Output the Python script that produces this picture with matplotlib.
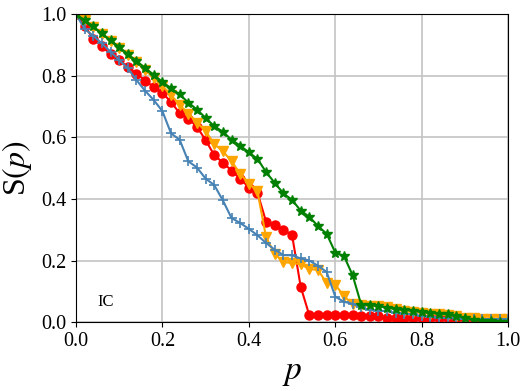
import matplotlib
matplotlib.use("Agg")
import matplotlib.pyplot as plt
import numpy as np

plt.rcParams["font.family"] = "serif"
plt.rcParams["font.serif"] = ["Liberation Serif", "DejaVu Serif"]
plt.rcParams["mathtext.fontset"] = "stix"

# fraction of removed nodes
p = [0.00, 0.02, 0.04, 0.06, 0.08, 0.10, 0.12, 0.14, 0.16, 0.18,
     0.20, 0.22, 0.24, 0.26, 0.28, 0.30, 0.32, 0.34, 0.36, 0.38,
     0.40, 0.42, 0.44, 0.46, 0.48, 0.50, 0.52, 0.54, 0.56, 0.58,
     0.60, 0.62, 0.64, 0.66, 0.68, 0.70, 0.72, 0.74, 0.76, 0.78,
     0.80, 0.82, 0.84, 0.86, 0.88, 0.90, 0.92, 0.94, 0.96, 0.98, 1.00]

s_blue = [1.000, 0.952, 0.929, 0.905, 0.878, 0.851, 0.824, 0.786, 0.751, 0.721,
          0.685, 0.613, 0.592, 0.522, 0.502, 0.466, 0.445, 0.395, 0.338, 0.322,
          0.303, 0.282, 0.257, 0.235, 0.218, 0.217, 0.207, 0.200, 0.183, 0.163,
          0.083, 0.066, 0.060, 0.048, 0.040, 0.037, 0.036, 0.030, 0.028, 0.025,
          0.020, 0.018, 0.015, 0.013, 0.012, 0.010, 0.010, 0.010, 0.010, 0.010, 0.010]

s_red = [1.000, 0.962, 0.920, 0.895, 0.870, 0.850, 0.828, 0.807, 0.784, 0.763,
         0.744, 0.715, 0.678, 0.661, 0.634, 0.591, 0.542, 0.518, 0.492, 0.466,
         0.437, 0.420, 0.326, 0.315, 0.300, 0.283, 0.115, 0.022, 0.022, 0.022,
         0.022, 0.022, 0.022, 0.020, 0.020, 0.020, 0.015, 0.015, 0.015, 0.015,
         0.015, 0.015, 0.015, 0.015, 0.015, 0.015, 0.015]

s_orange = [1.000, 0.980, 0.958, 0.935, 0.912, 0.890, 0.866, 0.843, 0.818, 0.793,
            0.767, 0.737, 0.705, 0.677, 0.648, 0.620, 0.578, 0.555, 0.522, 0.482,
            0.450, 0.425, 0.275, 0.222, 0.195, 0.192, 0.188, 0.172, 0.170, 0.127,
            0.122, 0.085, 0.058, 0.055, 0.053, 0.052, 0.048, 0.042, 0.035, 0.033,
            0.030, 0.028, 0.025, 0.022, 0.020, 0.015, 0.012, 0.010, 0.010, 0.010, 0.010]

s_green = [1.000, 0.980, 0.960, 0.937, 0.915, 0.893, 0.870, 0.848, 0.825, 0.803,
           0.780, 0.759, 0.739, 0.713, 0.690, 0.663, 0.636, 0.618, 0.592, 0.573,
           0.551, 0.530, 0.487, 0.452, 0.418, 0.397, 0.362, 0.342, 0.312, 0.287,
           0.226, 0.215, 0.153, 0.057, 0.056, 0.052, 0.047, 0.043, 0.040, 0.037,
           0.033, 0.030, 0.028, 0.025, 0.020, 0.015, 0.008, 0.004, 0.003, 0.002, 0.002]

fig = plt.figure(figsize=(5.31, 3.91), dpi=100)
ax = fig.add_axes([0.143, 0.176, 0.814, 0.788])

ax.plot(p[:len(s_red)], s_red, color="red", marker="o", markersize=6.5, linewidth=1.5)
ax.plot(p, s_orange, color="orange", marker="v", markersize=7.5, linewidth=1.5)
ax.plot(p, s_blue, color="steelblue", marker="+", markersize=7, markeredgewidth=1.2, linewidth=1.5)
ax.plot(p, s_green, color="green", marker="*", markersize=7.5, linewidth=1.5)

ax.set_xlim(0, 1)
ax.set_ylim(0, 1)
ax.set_xticks([0.0, 0.2, 0.4, 0.6, 0.8, 1.0])
ax.set_yticks([0.0, 0.2, 0.4, 0.6, 0.8, 1.0])
ax.tick_params(labelsize=14.5)
ax.grid(True, color="#c4c4c4", linewidth=1.2)
ax.set_axisbelow(True)

ax.set_xlabel("$p$", fontsize=24, labelpad=5)
ax.set_ylabel("S$(p)$", fontsize=23, labelpad=5)
ax.text(0.05, 0.053, "IC", fontsize=12, transform=ax.transAxes)

plt.savefig("out.png", dpi=100)
